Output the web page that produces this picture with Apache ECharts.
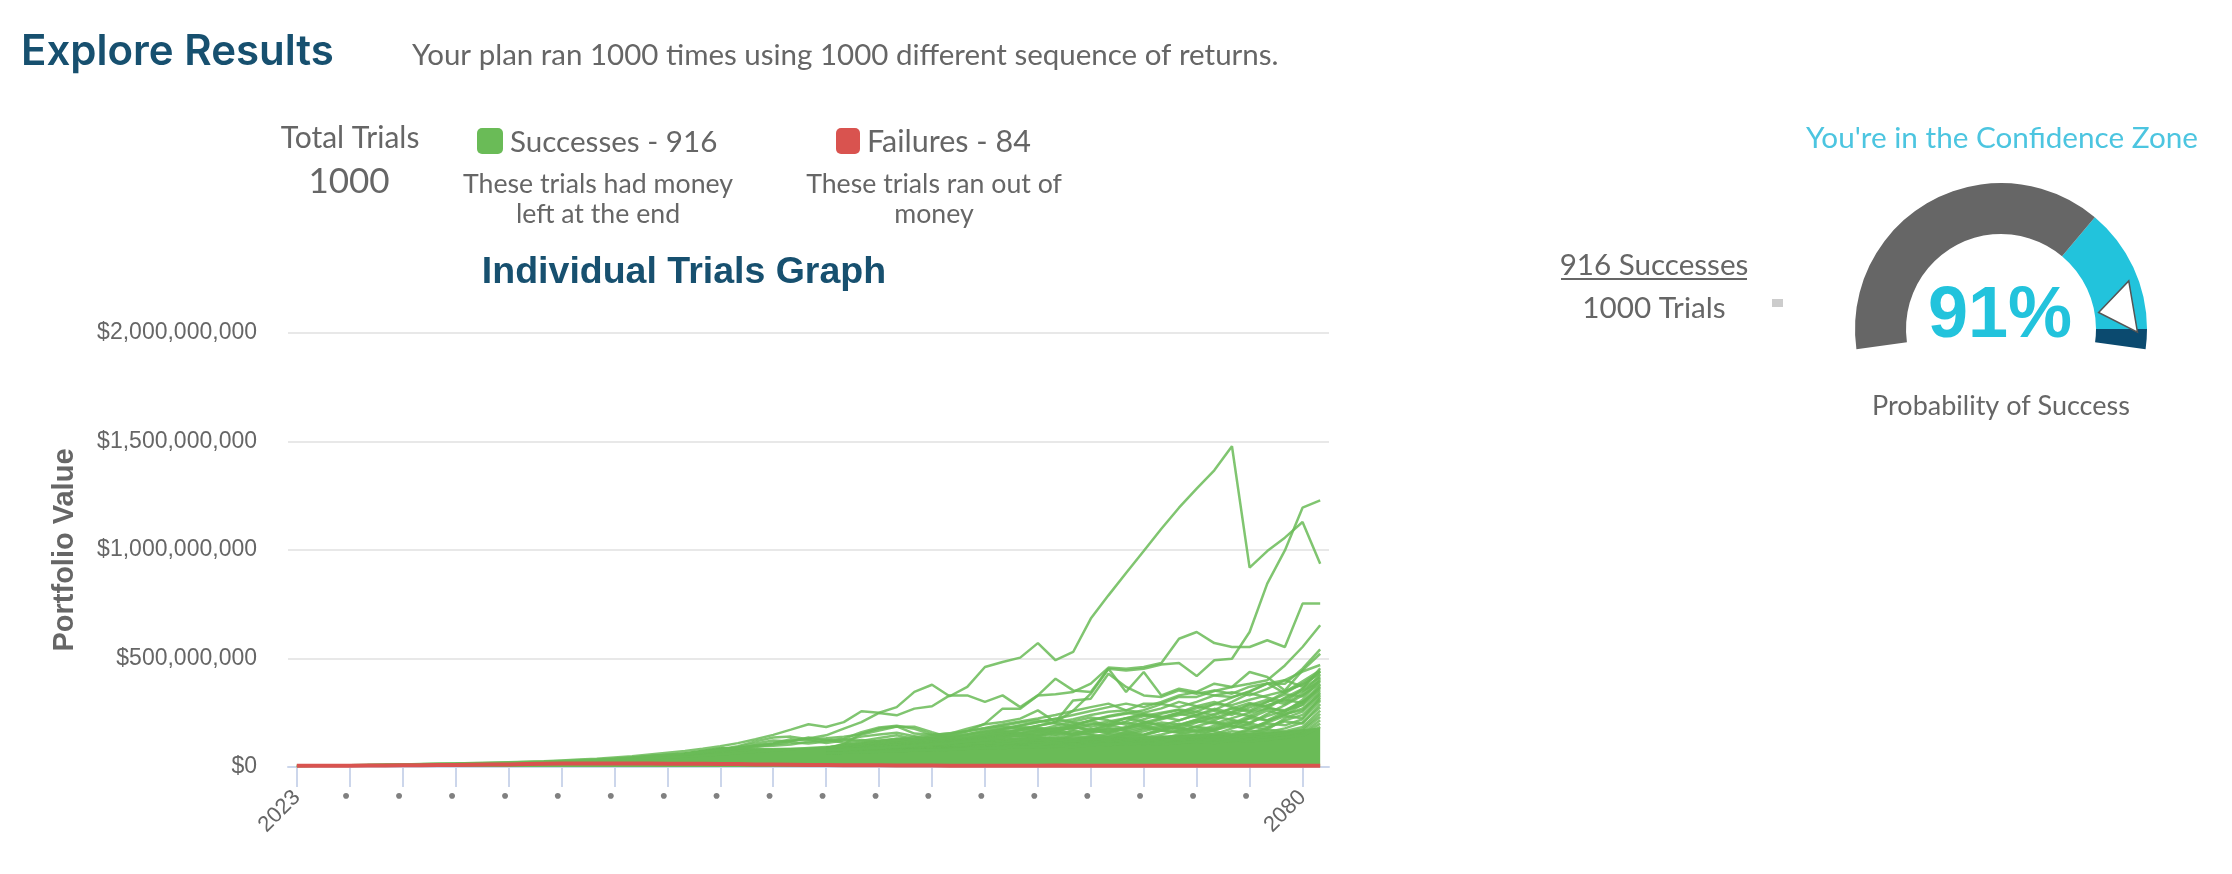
<!DOCTYPE html>
<html>
<head>
<meta charset="utf-8">
<script src="https://cdn.jsdelivr.net/npm/echarts@6/dist/echarts.min.js"></script>
<style>
html, body { margin: 0; padding: 0; background: #fff; }
#chart { width: 2232px; height: 874px; }
</style>
</head>
<body>
<div id="chart"></div>
<script>
const years = [];
for (let y = 2023; y <= 2081; y++) years.push(String(y));
const labelledYears = ['2023', '2080'];
const yTicksMillions = [0, 500, 1000, 1500, 2000];

// all values in $ millions
const solidMass = [
    5, 6, 7, 8, 9, 11, 13, 15, 16, 17,
    18, 19, 20, 22, 24, 28, 32, 36, 40, 47,
    55, 60, 66, 78, 90, 88, 86, 86, 87, 88,
    92, 94, 96, 98, 100, 105, 112, 118, 122, 128,
    133, 135, 135, 135, 137, 140, 140, 138, 135, 140,
    148, 148, 150, 152, 155, 160, 165, 172, 180,
];
const failures = [
    6, 6, 6, 6, 7, 7, 8, 8, 9, 9,
    10, 11, 12, 14, 15, 16, 16, 16, 16, 16,
    16, 15, 15, 15, 14, 14, 12, 11, 10, 9,
    9, 8, 8, 8, 7, 7, 7, 6, 6, 6,
    6, 6, 6, 7, 6, 6, 6, 6, 6, 6,
    6, 6, 6, 6, 6, 6, 6, 6, 6,
];
const trialA = [
    5, 6, 7, 8, 9, 11, 12, 14, 15, 16,
    18, 20, 22, 24, 26, 30, 34, 38, 44, 50,
    58, 66, 74, 84, 96, 110, 128, 148, 172, 197,
    184, 207, 257, 250, 276, 346, 379, 326, 369, 461,
    484, 504, 571, 492, 530, 684, 791, 894, 995, 1098,
    1195, 1283, 1367, 1478, 919, 995, 1057, 1129, 937,
];
const trialB = [
    5, 6, 7, 8, 9, 10, 11, 13, 14, 15,
    16, 18, 19, 21, 23, 25, 27, 30, 33, 36,
    40, 44, 48, 53, 58, 64, 70, 76, 82, 88,
    92, 96, 100, 104, 108, 112, 118, 124, 130, 140,
    155, 175, 190, 207, 260, 338, 453, 445, 453, 472,
    479, 419, 492, 499, 622, 845, 998, 1195, 1229,
];
const trialC = [
    5, 6, 7, 8, 9, 10, 12, 13, 15, 16,
    17, 19, 21, 23, 25, 28, 31, 35, 39, 44,
    50, 56, 62, 70, 78, 88, 98, 108, 120, 131,
    146, 177, 207, 249, 238, 269, 280, 330, 330, 300,
    330, 276, 330, 335, 346, 384, 458, 453, 461, 479,
    591, 622, 571, 553, 553, 584, 553, 753, 753,
];
// humps that leave the solid mass around 2045 and sink back into it by 2061
const earlyYearsFrom = 22;
const earlyTrials = [
    [60, 70, 82, 96, 118, 136, 140, 128, 132, 140, 150, 168, 186, 186, 160, 136, 112],
    [58, 68, 78, 92, 108, 122, 118, 136, 122, 130, 160, 182, 190, 176, 150, 128, 110],
    [60, 68, 76, 86, 100, 110, 128, 124, 110, 122, 140, 150, 158, 142, 122, 112, 108],
    [56, 66, 74, 84, 92, 104, 114, 108, 118, 128, 120, 134, 146, 128, 118, 124, 110],
    [60, 70, 80, 88, 96, 98, 104, 116, 126, 112, 124, 118, 130, 122, 134, 118, 106],
];
// the rest only rise above the solid mass from 2053 on
const laterYearsFrom = 30;
const laterTrials = [
    [88, 105, 110, 120, 125, 130, 140, 150, 165, 200, 269, 269, 330, 407, 353, 346, 453, 346, 438, 330, 361, 346, 384, 369, 438, 415, 353, 445, 522],
    [80, 105, 154, 177, 187, 154, 149, 154, 177, 197, 207, 223, 261, 207, 307, 315, 430, 369, 330, 323, 353, 338, 353, 338, 370, 385, 400, 370, 440],
    [86, 104, 112, 122, 130, 138, 146, 156, 166, 180, 196, 210, 224, 240, 258, 276, 292, 261, 292, 292, 323, 323, 350, 369, 384, 400, 468, 553, 653],
    [85, 98, 104, 110, 118, 126, 134, 142, 152, 164, 176, 190, 206, 222, 240, 258, 276, 292, 276, 300, 330, 345, 330, 323, 346, 384, 384, 453, 542],
    [84, 100, 108, 118, 125, 122, 118, 115, 125, 140, 150, 158, 170, 180, 175, 195, 210, 225, 240, 230, 250, 270, 290, 285, 310, 330, 350, 380, 430],
    [90, 96, 104, 112, 120, 130, 135, 130, 128, 135, 150, 170, 190, 205, 220, 240, 255, 262, 250, 270, 300, 280, 262, 300, 340, 320, 300, 360, 455],
    [88, 92, 96, 102, 110, 116, 124, 135, 148, 160, 172, 185, 178, 170, 190, 215, 232, 245, 262, 290, 276, 300, 330, 345, 330, 360, 400, 440, 470],
    [84, 90, 100, 110, 105, 102, 110, 120, 132, 150, 165, 150, 140, 160, 185, 200, 190, 210, 235, 250, 265, 255, 290, 320, 350, 385, 340, 385, 440],
    [86, 88, 92, 98, 104, 112, 118, 122, 126, 134, 142, 155, 168, 160, 150, 170, 195, 225, 210, 190, 215, 240, 260, 240, 275, 300, 335, 325, 410],
    [82, 85, 88, 94, 100, 106, 108, 112, 120, 128, 120, 132, 148, 165, 182, 175, 165, 185, 205, 225, 245, 230, 215, 250, 290, 280, 315, 350, 395],
    [80, 84, 90, 96, 98, 104, 112, 118, 115, 122, 135, 145, 135, 125, 145, 160, 178, 170, 188, 205, 195, 218, 245, 270, 255, 285, 310, 295, 380],
    [78, 82, 85, 90, 94, 100, 104, 106, 112, 118, 125, 118, 128, 142, 155, 148, 140, 162, 180, 172, 190, 210, 200, 225, 250, 270, 262, 300, 365],
    [76, 80, 84, 88, 92, 96, 100, 105, 110, 106, 114, 124, 135, 128, 120, 138, 155, 148, 165, 185, 178, 165, 190, 212, 205, 235, 260, 285, 350],
    [75, 78, 82, 86, 88, 92, 98, 102, 100, 108, 116, 110, 120, 132, 145, 135, 128, 145, 135, 150, 170, 185, 175, 200, 225, 215, 240, 270, 335],
    [74, 76, 80, 84, 86, 90, 94, 96, 104, 112, 105, 100, 112, 125, 118, 130, 148, 138, 150, 168, 158, 145, 170, 190, 180, 205, 235, 225, 320],
    [72, 75, 78, 80, 84, 88, 90, 96, 100, 96, 104, 115, 108, 118, 130, 122, 135, 150, 142, 130, 150, 172, 165, 150, 175, 200, 192, 220, 305],
    [72, 74, 76, 80, 82, 85, 88, 92, 94, 100, 108, 102, 112, 105, 115, 128, 120, 132, 125, 142, 135, 150, 140, 165, 158, 180, 210, 200, 290],
    [70, 72, 75, 78, 80, 84, 86, 90, 92, 98, 94, 102, 98, 108, 120, 112, 124, 118, 135, 128, 120, 138, 155, 148, 168, 160, 178, 205, 275],
    [70, 72, 74, 76, 80, 82, 86, 88, 90, 94, 100, 96, 104, 112, 105, 118, 112, 126, 118, 110, 128, 122, 140, 132, 150, 172, 165, 185, 260],
    [68, 70, 72, 76, 78, 80, 84, 86, 90, 92, 96, 100, 94, 102, 110, 104, 116, 108, 120, 128, 118, 112, 125, 140, 130, 148, 158, 175, 245],
    [66, 68, 72, 74, 76, 80, 82, 84, 88, 90, 92, 98, 102, 96, 104, 112, 106, 118, 112, 122, 130, 120, 132, 125, 142, 135, 150, 168, 230],
    [66, 68, 70, 72, 76, 78, 80, 84, 86, 88, 92, 94, 90, 98, 106, 102, 110, 104, 114, 108, 118, 126, 116, 130, 124, 138, 132, 155, 215],
    [64, 66, 68, 72, 74, 76, 80, 82, 84, 86, 90, 92, 96, 92, 100, 106, 100, 112, 106, 116, 110, 120, 128, 118, 130, 124, 140, 150, 200],
    [64, 66, 68, 70, 72, 76, 78, 80, 84, 86, 88, 92, 90, 96, 92, 100, 108, 102, 110, 104, 112, 118, 110, 124, 118, 128, 136, 145, 185],
    [88, 96, 104, 112, 120, 128, 132, 145, 165, 178, 190, 205, 215, 200, 190, 215, 235, 250, 240, 225, 250, 280, 300, 275, 260, 300, 345, 395, 445],
    [86, 92, 100, 108, 112, 118, 128, 138, 150, 170, 185, 178, 170, 190, 210, 228, 215, 195, 220, 245, 262, 240, 225, 255, 285, 310, 290, 340, 425],
    [85, 90, 96, 102, 110, 120, 124, 130, 142, 158, 175, 192, 208, 222, 205, 185, 200, 225, 245, 232, 215, 240, 268, 250, 235, 270, 320, 360, 415],
    [84, 88, 94, 100, 106, 112, 122, 134, 128, 145, 162, 172, 160, 178, 198, 212, 192, 176, 198, 220, 240, 255, 238, 270, 295, 275, 255, 310, 400],
    [82, 86, 92, 98, 104, 110, 116, 126, 138, 150, 165, 158, 148, 168, 185, 170, 155, 180, 205, 195, 178, 205, 232, 218, 200, 245, 285, 330, 385],
    [80, 85, 90, 96, 102, 106, 114, 122, 132, 146, 155, 170, 182, 168, 152, 172, 190, 205, 188, 168, 192, 218, 205, 185, 225, 260, 240, 290, 372],
    [80, 84, 88, 94, 100, 104, 110, 118, 126, 136, 148, 142, 158, 175, 188, 165, 180, 165, 148, 178, 200, 182, 168, 200, 236, 215, 255, 300, 358],
    [78, 82, 86, 90, 96, 102, 108, 116, 122, 130, 142, 154, 145, 160, 150, 172, 160, 182, 195, 170, 160, 188, 210, 190, 175, 210, 245, 262, 342],
    [78, 80, 84, 88, 94, 100, 106, 112, 120, 128, 138, 148, 160, 148, 170, 155, 172, 150, 175, 190, 168, 158, 180, 205, 190, 172, 225, 255, 328],
    [76, 80, 84, 88, 92, 98, 104, 110, 118, 124, 135, 146, 138, 152, 165, 148, 135, 158, 145, 168, 185, 165, 150, 178, 200, 185, 215, 240, 312],
];

const gaugeValue = 91;
const gaugeBands = [[0.704, '#666666'], [0.959, '#22c3dc'], [1, '#0b4a6f']];

const FONT = 'Lato, "Open Sans", sans-serif';
const ARIAL = '"Liberation Sans", Arial, sans-serif';
const NAVY = '#17506f';
const GREY = '#666666';
const TRIAL_GREEN = '#6abb57';

function label(text, x, baseline, size, fill, align, family, weight) {
    return {
        type: 'text',
        silent: true,
        style: {
            text, x, y: baseline + size * 0.2, fill,
            font: `${weight || 'normal'} ${size}px ${family || FONT}`,
            textAlign: align || 'center',
            textVerticalAlign: 'bottom',
        },
    };
}

const chart = echarts.init(document.getElementById('chart'));

const trialLine = (name, data) => ({
    name, type: 'line', data,
    symbol: 'none', silent: true, z: 3,
    lineStyle: { color: TRIAL_GREEN, width: 2.5, opacity: 0.85 },
});

const series = [
    {
        name: 'Successes', type: 'line', data: solidMass,
        symbol: 'none', silent: true, z: 2,
        lineStyle: { color: TRIAL_GREEN, width: 1 },
        areaStyle: { color: TRIAL_GREEN, opacity: 1 },
    },
    trialLine('Trial A', trialA),
    trialLine('Trial B', trialB),
    trialLine('Trial C', trialC),
];
earlyTrials.forEach((vals, i) => {
    series.push(trialLine(`Early trial ${i + 1}`, new Array(earlyYearsFrom).fill(null).concat(vals)));
});
laterTrials.forEach((vals, i) => {
    series.push(trialLine(`Later trial ${i + 1}`, new Array(laterYearsFrom).fill(null).concat(vals)));
});
series.push({
    name: 'Failures', type: 'line', data: failures,
    symbol: 'none', silent: true, z: 4,
    lineStyle: { color: '#d9534f', width: 4 },
});
series.push({
    type: 'gauge',
    center: [2001, 329],
    radius: 146,
    startAngle: 188,
    endAngle: -8,
    min: 0,
    max: 100,
    silent: true,
    z: 5,
    axisLine: { lineStyle: { width: 51, color: gaugeBands } },
    splitLine: { show: false },
    axisTick: { show: false },
    axisLabel: { show: false },
    progress: { show: false },
    pointer: {
        icon: 'path://M0 0 L100 0 L50 100 Z',
        width: 52,
        length: 35,
        offsetCenter: [0, -99],
        itemStyle: { color: '#ffffff', borderColor: '#555555', borderWidth: 1.5 },
    },
    anchor: { show: false },
    title: { show: false },
    detail: {
        formatter: '{value}%',
        offsetCenter: [-1, -12],
        color: '#22c3dc',
        fontFamily: ARIAL,
        fontWeight: 'bold',
        fontSize: 72,
    },
    data: [{ value: gaugeValue }],
});

chart.setOption({
    animation: false,
    backgroundColor: '#ffffff',
    grid: { left: 288, right: 903, top: 333, bottom: 107 },
    xAxis: {
        type: 'category',
        data: years,
        boundaryGap: true,
        axisLine: { show: true, lineStyle: { color: '#ccd6eb', width: 2 } },
        axisTick: { show: true, alignWithLabel: true, interval: 2, length: 20, lineStyle: { color: '#ccd6eb', width: 2 } },
        splitLine: { show: false },
        axisLabel: {
            interval: 2,
            rotate: 45,
            margin: 27,
            color: GREY,
            fontFamily: ARIAL,
            fontSize: 22,
            formatter: v => (labelledYears.includes(v) ? v : '{dot|•}'),
            rich: { dot: { color: '#808080', fontFamily: ARIAL, fontSize: 22 } },
        },
    },
    yAxis: {
        type: 'value',
        min: yTicksMillions[0],
        max: yTicksMillions[yTicksMillions.length - 1],
        interval: 500,
        name: 'Portfolio Value',
        nameLocation: 'middle',
        nameGap: 209,
        nameTextStyle: { color: GREY, fontFamily: ARIAL, fontWeight: 'bold', fontSize: 29 },
        axisLine: { show: false },
        axisTick: { show: false },
        splitLine: { lineStyle: { color: '#e8e8e8', width: 2 } },
        axisLabel: {
            color: GREY,
            fontFamily: ARIAL,
            fontSize: 23,
            margin: 31,
            padding: [5, 0, 0, 0],
            formatter: v => '$' + (v * 1000000).toLocaleString('en-US'),
        },
    },
    series,
    graphic: [
        label('Explore Results', 21, 65, 42, NAVY, 'left', 'Inter', '600'),
        label('Your plan ran 1000 times using 1000 different sequence of returns.', 412, 65, 29.5, GREY, 'left'),

        label('Total Trials', 350, 147, 30, GREY),
        label('1000', 349, 192, 35, GREY),

        { type: 'rect', silent: true, shape: { x: 477, y: 128, width: 26, height: 26, r: 5 }, style: { fill: TRIAL_GREEN } },
        label('Successes - 916', 510, 152, 29.6, GREY, 'left'),
        label('These trials had money', 598, 193, 26.7, GREY),
        label('left at the end', 598, 223, 26.7, GREY),

        { type: 'rect', silent: true, shape: { x: 836, y: 128, width: 24, height: 26, r: 5 }, style: { fill: '#d9534f' } },
        label('Failures - 84', 867, 152, 30.5, GREY, 'left'),
        label('These trials ran out of', 934, 193, 26.7, GREY),
        label('money', 934, 223, 26.7, GREY),

        label('Individual Trials Graph', 684, 284, 37.5, NAVY, 'center', ARIAL, 'bold'),

        label("You're in the Confidence Zone", 2002, 147, 29.7, '#4cc5e0'),
        label('916 Successes', 1654, 275, 29.6, GREY),
        { type: 'line', silent: true, shape: { x1: 1561, y1: 279, x2: 1747, y2: 279 }, style: { stroke: GREY, lineWidth: 2 } },
        label('1000 Trials', 1654, 317, 29.7, GREY),
        { type: 'rect', silent: true, shape: { x: 1772, y: 299, width: 11, height: 8 }, style: { fill: '#cccccc' } },
        label('Probability of Success', 2001, 414, 27, GREY),
    ],
});
</script>
</body>
</html>
